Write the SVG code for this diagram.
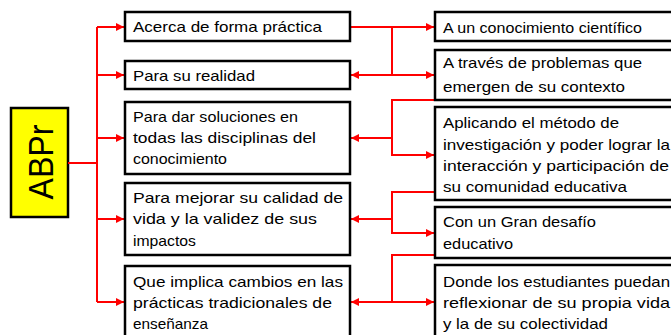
<svg xmlns="http://www.w3.org/2000/svg" width="671" height="335" viewBox="0 0 671 335">
<defs>
<marker id="ah" viewBox="0 0 10 10" refX="10" refY="5" markerWidth="4" markerHeight="4" orient="auto-start-reverse" markerUnits="strokeWidth">
<path d="M0,0 L10,5 L0,10 z" fill="#FF0000"/>
</marker>
<style>
.box{fill:#fff;stroke:#000;stroke-width:2.5}
.t{font-family:"Liberation Sans",Arial,sans-serif;font-size:15px;fill:#000}
.c{fill:none;stroke:#FF0000;stroke-width:2}
</style>
</defs>
<rect width="671" height="335" fill="#fff"/>
<g id="abpr">
<rect x="11" y="108" width="57" height="109" fill="#FFFF00" stroke="#000" stroke-width="2.5"/>
<text transform="translate(53,162) rotate(-90)" text-anchor="middle" font-family="Liberation Sans,Arial,sans-serif" font-size="35" textLength="75" lengthAdjust="spacingAndGlyphs">ABPr</text>
</g>
<g id="connectors">
<path class="c" d="M68,163 H97"/>
<path class="c" d="M97,27 V302"/>
<path class="c" d="M97,27 H124" marker-end="url(#ah)"/>
<path class="c" d="M97,75 H124" marker-end="url(#ah)"/>
<path class="c" d="M97,138 H124" marker-end="url(#ah)"/>
<path class="c" d="M97,219 H124" marker-end="url(#ah)"/>
<path class="c" d="M97,302 H124" marker-end="url(#ah)"/>
<path class="c" d="M351,27 H434" marker-end="url(#ah)"/>
<path class="c" d="M392,27 V75"/>
<path class="c" d="M351,75 H434" marker-start="url(#ah)" marker-end="url(#ah)"/>
<path class="c" d="M435,100 H392 V155 H434" marker-end="url(#ah)"/>
<path class="c" d="M392,138 H351" marker-end="url(#ah)"/>
<path class="c" d="M435,192 H392 V233 H434" marker-end="url(#ah)"/>
<path class="c" d="M392,219 H351" marker-end="url(#ah)"/>
<path class="c" d="M435,255 H392 V302"/>
<path class="c" d="M351,302 H434" marker-start="url(#ah)" marker-end="url(#ah)"/>
</g>
<g id="l1"><rect class="box" x="125" y="12" width="225" height="29"/><text class="t" x="133" y="32" textLength="189" lengthAdjust="spacingAndGlyphs">Acerca de forma práctica</text></g>
<g id="l2"><rect class="box" x="125" y="61" width="225" height="28"/><text class="t" x="133" y="81" textLength="122" lengthAdjust="spacingAndGlyphs">Para su realidad</text></g>
<g id="l3"><rect class="box" x="125" y="102" width="225" height="72"/><text class="t" x="133" y="122" textLength="165" lengthAdjust="spacingAndGlyphs">Para dar soluciones en</text><text class="t" x="133" y="143" textLength="183" lengthAdjust="spacingAndGlyphs">todas las disciplinas del</text><text class="t" x="133" y="164" textLength="94" lengthAdjust="spacingAndGlyphs">conocimiento</text></g>
<g id="l4"><rect class="box" x="125" y="183" width="225" height="72"/><text class="t" x="133" y="203" textLength="210" lengthAdjust="spacingAndGlyphs">Para mejorar su calidad de</text><text class="t" x="133" y="224" textLength="184" lengthAdjust="spacingAndGlyphs">vida y la validez de sus</text><text class="t" x="133" y="246" textLength="63" lengthAdjust="spacingAndGlyphs">impactos</text></g>
<g id="l5"><rect class="box" x="125" y="266" width="225" height="80"/><text class="t" x="133" y="287" textLength="210" lengthAdjust="spacingAndGlyphs">Que implica cambios en las</text><text class="t" x="133" y="308" textLength="199" lengthAdjust="spacingAndGlyphs">prácticas tradicionales de</text><text class="t" x="133" y="329" textLength="75" lengthAdjust="spacingAndGlyphs">enseñanza</text></g>
<g id="r1"><rect class="box" x="435" y="12" width="250" height="29"/><text class="t" x="443" y="33" textLength="199" lengthAdjust="spacingAndGlyphs">A un conocimiento científico</text></g>
<g id="r2"><rect class="box" x="435" y="50" width="250" height="50"/><text class="t" x="443" y="68" textLength="199" lengthAdjust="spacingAndGlyphs">A través de problemas que</text><text class="t" x="443" y="92" textLength="182" lengthAdjust="spacingAndGlyphs">emergen de su contexto</text></g>
<g id="r3"><rect class="box" x="435" y="107" width="250" height="93"/><text class="t" x="443" y="128" textLength="176" lengthAdjust="spacingAndGlyphs">Aplicando el método de</text><text class="t" x="443" y="150" textLength="227" lengthAdjust="spacingAndGlyphs">investigación y poder lograr la</text><text class="t" x="443" y="171" textLength="226" lengthAdjust="spacingAndGlyphs">interacción y participación de</text><text class="t" x="443" y="192" textLength="184" lengthAdjust="spacingAndGlyphs">su comunidad educativa</text></g>
<g id="r4"><rect class="box" x="435" y="207" width="250" height="51"/><text class="t" x="443" y="227" textLength="153" lengthAdjust="spacingAndGlyphs">Con un Gran desafío</text><text class="t" x="443" y="249" textLength="70" lengthAdjust="spacingAndGlyphs">educativo</text></g>
<g id="r5"><rect class="box" x="435" y="265" width="250" height="80"/><text class="t" x="443" y="287" textLength="227" lengthAdjust="spacingAndGlyphs">Donde los estudiantes puedan</text><text class="t" x="443" y="308" textLength="227" lengthAdjust="spacingAndGlyphs">reflexionar de su propia vida</text><text class="t" x="443" y="329" textLength="165" lengthAdjust="spacingAndGlyphs">y la de su colectividad</text></g>
</svg>
